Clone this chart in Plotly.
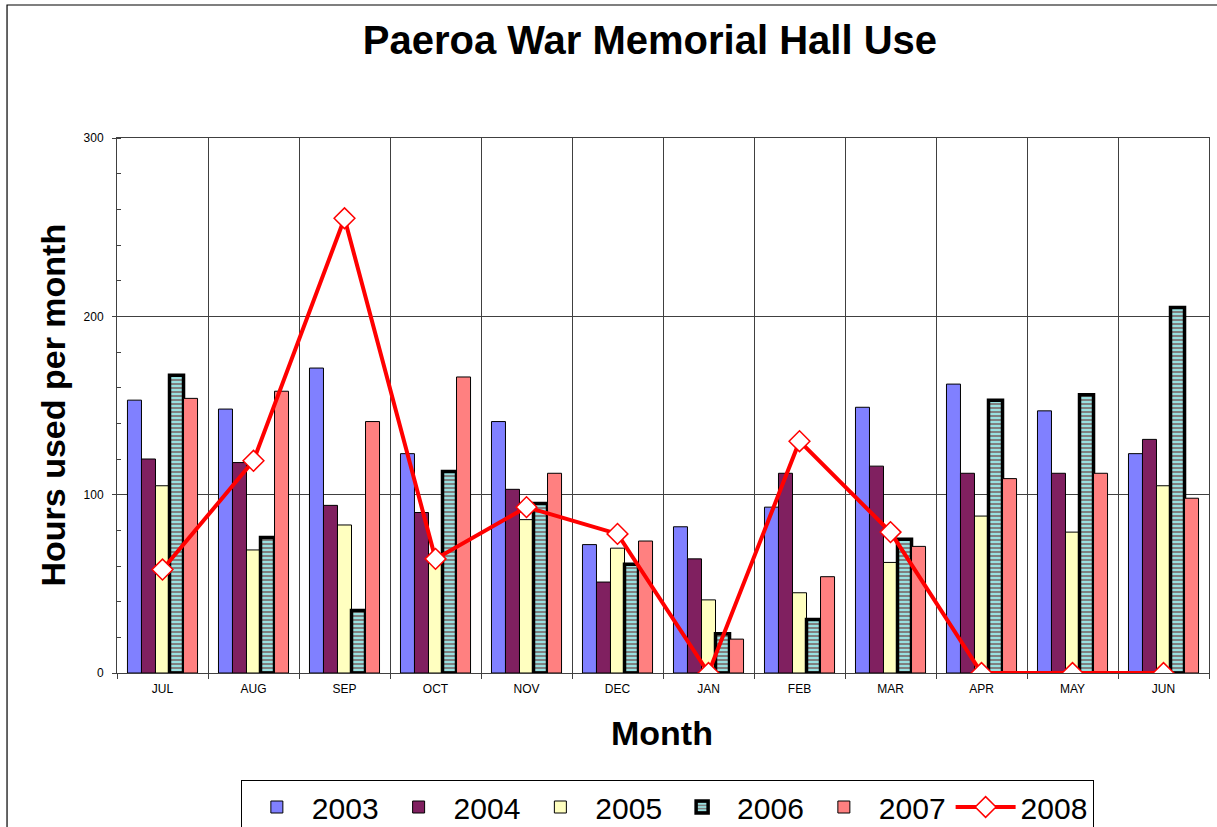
import plotly.graph_objects as go

months = ["JUL", "AUG", "SEP", "OCT", "NOV", "DEC", "JAN", "FEB", "MAR", "APR", "MAY", "JUN"]
y2003 = [153, 148, 171, 123, 141, 72, 82, 93, 149, 162, 147, 123]
y2004 = [120, 118, 94, 90, 103, 51, 64, 112, 116, 112, 112, 131]
y2005 = [105, 69, 83, 62, 86, 70, 41, 45, 62, 88, 79, 105]
y2006 = [167, 76, 35, 113, 95, 61, 22, 30, 75, 153, 156, 205]
y2007 = [154, 158, 141, 166, 112, 74, 19, 54, 71, 109, 112, 98]
y2008 = [58, 119, 255, 64, 93, 78, 0, 130, 79, 0, 0, 0]

FONT = "Liberation Sans, Arial, sans-serif"

fig = go.Figure()
fig.add_trace(go.Bar(name="2003", x=months, y=y2003,
                     marker=dict(color="#8080FF", line=dict(color="black", width=1))))
fig.add_trace(go.Bar(name="2004", x=months, y=y2004,
                     marker=dict(color="#802060", line=dict(color="black", width=1))))
fig.add_trace(go.Bar(name="2005", x=months, y=y2005,
                     marker=dict(color="#FFFFC0", line=dict(color="black", width=1))))
fig.add_trace(go.Bar(name="2006", x=months, y=y2006,
                     marker=dict(color="#99E0E0",
                                 pattern=dict(shape="-", fgcolor="#808080", bgcolor="#99E0E0",
                                              size=4, solidity=0.5, fillmode="replace"),
                                 line=dict(color="black", width=3.5))))
fig.add_trace(go.Bar(name="2007", x=months, y=y2007,
                     marker=dict(color="#FF8080", line=dict(color="black", width=1))))
fig.add_trace(go.Scatter(name="2008", x=months, y=y2008, mode="lines+markers",
                         line=dict(color="#FF0000", width=4),
                         marker=dict(symbol="diamond", size=16, color="white",
                                     line=dict(color="#FF0000", width=1.5))))

# outer chart frame (cropped at right/bottom in the reference)
fig.add_shape(type="rect", xref="paper", yref="paper",
              x0=-0.1007, x1=1.2, y0=-0.6, y1=1.2486,
              line=dict(color="black", width=1.2), fillcolor="rgba(0,0,0,0)", layer="below")

fig.add_annotation(text="<b>Hours used per month</b>", xref="paper", yref="paper",
                   x=-0.0595, y=0.5, textangle=-90, showarrow=False,
                   font=dict(family=FONT, size=34, color="black"),
                   xanchor="center", yanchor="middle")
fig.add_annotation(text="<b>Month</b>", xref="paper", yref="paper",
                   x=0.499, y=-0.112, showarrow=False,
                   font=dict(family=FONT, size=34, color="black"),
                   xanchor="center", yanchor="middle")

fig.update_layout(
    width=1217, height=827, autosize=False,
    margin=dict(l=117, r=8, t=138, b=154, autoexpand=False),
    paper_bgcolor="white", plot_bgcolor="white",
    font=dict(family=FONT, color="black", size=12),
    title=dict(text="<b>Paeroa War Memorial Hall Use</b>", x=0.534, y=1 - 40 / 827,
               xref="container", yref="container", xanchor="center", yanchor="middle",
               font=dict(family=FONT, size=40, color="black")),
    barmode="group", bargap=0.23, bargroupgap=0,
    legend=dict(orientation="h", x=0.504, y=-0.2, xanchor="center", yanchor="top",
                bordercolor="black", borderwidth=1, bgcolor="white",
                font=dict(family=FONT, size=30, color="black"),
                traceorder="normal", itemwidth=60),
    xaxis=dict(range=[-0.5, 11.5], tickson="boundaries", showgrid=True,
               gridcolor="#404040", gridwidth=1,
               ticks="outside", ticklen=5, tickcolor="#404040", ticklabelstandoff=5,
               showline=True, linecolor="#404040", linewidth=1, mirror=True,
               tickfont=dict(family=FONT, size=12, color="black"), fixedrange=True),
    yaxis=dict(range=[0, 300], dtick=100, showgrid=True, gridcolor="#404040", gridwidth=1,
               ticks="outside", ticklen=4, tickcolor="#404040", ticklabelstandoff=6,
               minor=dict(dtick=20, ticks="inside", ticklen=4, tickcolor="#404040", showgrid=False),
               showline=True, linecolor="#404040", linewidth=1, mirror=True,
               zeroline=False,
               tickfont=dict(family=FONT, size=12, color="black"), fixedrange=True),
)

fig.write_html("out.html", config={"displayModeBar": False},
               post_script="document.body.style.margin='0px';")
